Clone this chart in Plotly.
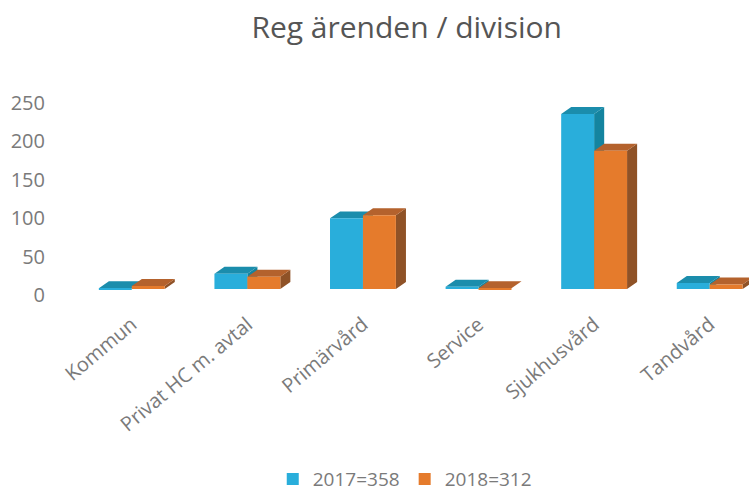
import plotly.graph_objects as go

categories = ["Kommun", "Privat HC m. avtal", "Primärvård", "Service", "Sjukhusvård", "Tandvård"]
values_2017 = [1, 20, 92, 3, 228, 8]
values_2018 = [4, 16, 96, 1, 180, 6]
name_2017 = "2017=358"
name_2018 = "2018=312"
y_ticks = [0, 50, 100, 150, 200, 250]

FONT = "Open Sans, sans-serif"
TXT = "#7a7a7a"
BAR_W = 0.285
DX = 0.087   # depth of the 3D look, category units
DY = 9.0     # depth of the 3D look, value units


def faces(vals, x0, x1):
    xs_top, ys_top, xs_side, ys_side = [], [], [], []
    for i, v in enumerate(vals):
        a, b = i + x0, i + x1
        xs_top += [a, a + DX, b + DX, b, a, None]
        ys_top += [v, v + DY, v + DY, v, v, None]
        xs_side += [b, b + DX, b + DX, b, b, None]
        ys_side += [0, DY, v + DY, v, 0, None]
    return xs_top, ys_top, xs_side, ys_side


def poly(xs, ys, color):
    return go.Scatter(x=xs, y=ys, mode="lines", fill="toself", fillcolor=color,
                      line=dict(width=0, color=color), showlegend=False,
                      hoverinfo="skip", xaxis="x", yaxis="y")


fig = go.Figure()
t, ty, s, sy = faces(values_2017, -BAR_W, 0)
fig.add_trace(poly(s, sy, "#14849f"))
fig.add_trace(poly(t, ty, "#1b8dac"))
t, ty, s, sy = faces(values_2018, 0, BAR_W)
fig.add_trace(poly(s, sy, "#8f5227"))
fig.add_trace(poly(t, ty, "#b4622d"))

xs = list(range(len(categories)))
fig.add_trace(go.Bar(x=xs, y=values_2017, name=name_2017, marker=dict(color="#29aedb", line_width=0),
                     xaxis="x", yaxis="y2"))
fig.add_trace(go.Bar(x=xs, y=values_2018, name=name_2018, marker=dict(color="#e57b2c", line_width=0),
                     xaxis="x", yaxis="y2"))
# carries the value labels, which sit a little below the bars' front edge
fig.add_trace(go.Scatter(x=[0], y=[0], mode="markers", marker=dict(opacity=0), showlegend=False,
                         hoverinfo="skip", xaxis="x", yaxis="y3"))

bars_range = [-20.8, 259.1]
fig.update_layout(
    width=749, height=495,
    margin=dict(l=74, r=0, t=90, b=190, autoexpand=False),
    paper_bgcolor="white", plot_bgcolor="white",
    barmode="group", bargap=1 - 2 * BAR_W, bargroupgap=0,
    title=dict(text="Reg ärenden / division", x=0.543, xanchor="center", y=0.945, yanchor="middle",
               font=dict(family=FONT, size=30, color="#555555")),
    xaxis=dict(range=[-0.5, 5.34], tickmode="array", tickvals=xs, ticktext=categories, tickangle=-40,
               showgrid=False, zeroline=False, showline=False, ticks="", ticklabelstandoff=3,
               tickfont=dict(family=FONT, size=20, color=TXT)),
    yaxis=dict(range=bars_range, visible=False),
    yaxis2=dict(range=bars_range, overlaying="y", visible=False),
    yaxis3=dict(range=[-13, 267], overlaying="y", side="left", tickmode="array", tickvals=y_ticks,
                showgrid=False, zeroline=False, showline=False, ticks="", ticklabelstandoff=28,
                tickfont=dict(family=FONT, size=20, color=TXT)),
    legend=dict(orientation="h", x=0.49, xanchor="center", y=-0.81, yanchor="middle",
                font=dict(family=FONT, size=19, color=TXT), bgcolor="rgba(0,0,0,0)"),
)
fig.write_html("out.html", config=dict(displayModeBar=False), post_script="document.body.style.margin='0';")
